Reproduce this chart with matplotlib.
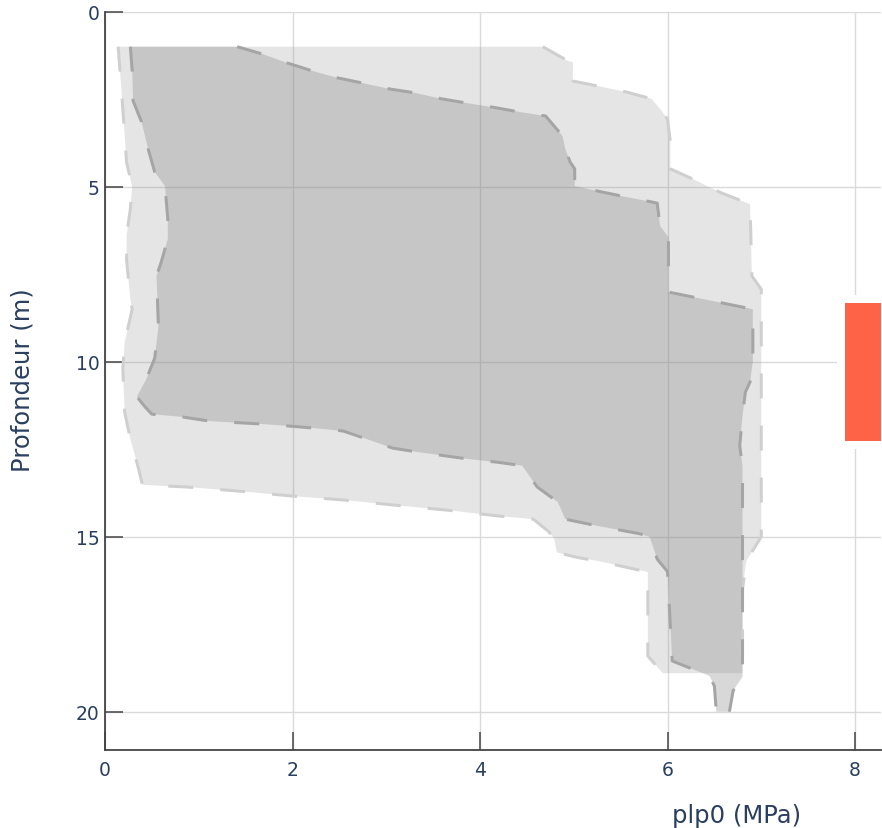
import matplotlib
matplotlib.use('Agg')
import matplotlib.pyplot as plt
from matplotlib.patches import Rectangle
import numpy as np

plt.rcParams['font.family'] = ['DejaVu Sans']
plt.rcParams['lines.scale_dashes'] = False

# ---------------- data ----------------
outer_left_depth = [1.0, 2.4, 4.3, 5.0, 5.64, 6.4, 7.1, 8.2, 8.5, 9.44, 10.2, 11.44, 12.21,
                    12.98, 13.52, 13.58, 13.70, 13.84, 13.95, 14.11, 14.25, 14.41, 14.5,
                    14.85, 15.05, 15.45, 15.6, 15.69, 16.01, 18.41, 18.9]
outer_left_x = [0.14, 0.18, 0.23, 0.29, 0.27, 0.23, 0.23, 0.27, 0.29, 0.21, 0.19, 0.21, 0.27,
                0.35, 0.40, 0.87, 1.44, 2.0, 2.54, 3.13, 3.68, 4.2, 4.57,
                4.73, 4.79, 4.82, 5.05, 5.25, 5.79, 5.79, 5.95]

outer_right_depth = [1.0, 1.41, 1.44, 1.98, 2.12, 2.30, 2.49, 2.84, 3.07, 3.72, 4.49, 4.78,
                     5.16, 5.50, 7.55, 7.93, 15.0, 15.70, 16.5, 18.9]
outer_right_x = [4.67, 4.94, 4.99, 4.99, 5.25, 5.57, 5.83, 5.94, 6.00, 6.03, 6.03, 6.27,
                 6.56, 6.88, 6.90, 7.00, 7.00, 6.84, 6.80, 6.80]

inner_left_depth = [1.0, 1.69, 2.55, 3.15, 3.92, 4.58, 4.98, 5.93, 6.49, 7.15, 7.55, 9.0, 9.9,
                    10.5, 11.0, 11.3, 11.5, 11.58, 11.70, 11.78, 11.84, 11.90, 11.98, 12.21,
                    12.47, 12.58, 12.69, 12.78, 12.87, 12.97, 13.58, 14.01, 14.50, 14.69,
                    14.92, 15.01, 15.64, 16.0, 18.55, 18.98, 19.27, 20.0]
inner_left_x = [0.27, 0.29, 0.30, 0.39, 0.46, 0.53, 0.64, 0.67, 0.67, 0.60, 0.55, 0.57, 0.53,
                0.44, 0.34, 0.43, 0.50, 0.83, 1.12, 1.67, 1.97, 2.24, 2.54, 2.79,
                3.07, 3.33, 3.63, 3.87, 4.18, 4.45, 4.61, 4.83, 4.91, 5.25,
                5.71, 5.81, 5.89, 6.0, 6.05, 6.45, 6.50, 6.52]

inner_right_depth = [1.0, 1.21, 1.47, 1.69, 1.89, 2.04, 2.21, 2.32, 2.49, 2.61, 2.73, 2.86,
                     2.98, 3.55, 3.92, 4.29, 4.49, 4.98, 5.15, 5.29, 5.44, 5.47, 6.12, 6.44,
                     8.01, 8.50, 10.0, 10.58, 10.87, 11.55, 12.4, 13.0, 19.0, 19.4, 20.0]
inner_right_x = [1.41, 1.68, 1.95, 2.21, 2.48, 2.75, 3.04, 3.31, 3.59, 3.86, 4.14, 4.41,
                 4.70, 4.88, 4.91, 4.96, 5.01, 5.01, 5.30, 5.55, 5.84, 5.89, 5.92, 6.01,
                 6.01, 6.91, 6.91, 6.88, 6.83, 6.80, 6.77, 6.80, 6.80, 6.70, 6.66]

layer_x_start = 7.893
layer_top = 8.32
layer_bottom = 12.27

x_ticks = [0, 2, 4, 6, 8]
y_ticks = [0, 5, 10, 15, 20]
x_title = 'plp0 (MPa)'
y_title = 'Profondeur (m)'

# ---------------- figure ----------------
W, H = 882, 829
fig = plt.figure(figsize=(W / 100, H / 100), dpi=100)
ax = fig.add_axes([105 / W, (H - 750.7) / H, (881 - 105) / W, (750.7 - 12.7) / H])
ax.set_xlim(0, 8.277)
ax.set_ylim(21.086, 0)

text_color = '#2a3f5f'
gray = (0.5, 0.5, 0.5)

old = np.array(outer_left_depth); olx = np.array(outer_left_x)
ord_ = np.array(outer_right_depth); orx = np.array(outer_right_x)
ild = np.array(inner_left_depth); ilx = np.array(inner_left_x)
ird = np.array(inner_right_depth); irx = np.array(inner_right_x)

ax.fill(np.r_[olx, orx[::-1]], np.r_[old, ord_[::-1]], color=gray, alpha=0.2, lw=0, zorder=2)
ax.fill(np.r_[ilx, irx[::-1]], np.r_[ild, ird[::-1]], color=gray, alpha=0.3, lw=0, zorder=3)

dash = (0, (18, 19.5))
lw = 2.16
ax.plot(olx, old, color='#cfcfcf', lw=lw, ls=dash, zorder=4)
ax.plot(orx, ord_, color='#cfcfcf', lw=lw, ls=dash, zorder=4)
ax.plot(ilx, ild, color='#a5a5a5', lw=lw, ls=dash, zorder=5)
ax.plot(irx, ird, color='#a5a5a5', lw=lw, ls=dash, zorder=5)

# highlighted layer
dx = 8 / 93.75
dy = 8 / 35
ax.add_patch(Rectangle((layer_x_start - dx, layer_top - dy), 2.0, layer_bottom - layer_top + 2 * dy,
                       facecolor='white', edgecolor='none', zorder=6))
ax.add_patch(Rectangle((layer_x_start, layer_top), 2.0, layer_bottom - layer_top,
                       facecolor='#ff6347', edgecolor='none', zorder=7))

ax.set_axisbelow(True)
ax.grid(True, color='#dadada', lw=1.0)
ax.set_xticks(x_ticks)
ax.set_yticks(y_ticks)
ax.tick_params(direction='in', length=13, width=1.1, color='#444444',
               labelsize=13.5, labelcolor=text_color)
ax.tick_params(axis='x', pad=7.6)
ax.tick_params(axis='y', pad=4)
for s in ['top', 'right']:
    ax.spines[s].set_visible(False)
for s in ['left', 'bottom']:
    ax.spines[s].set_color('#444444')
    ax.spines[s].set_linewidth(1.3)
    ax.spines[s].set_zorder(8)

fig.text(737 / W, (H - 823) / H, x_title, ha='center', va='baseline', fontsize=17.5, color=text_color)
fig.text(22.5 / W, 1 - 380 / H, y_title, rotation=90, ha='center', va='center', fontsize=17.5,
         color=text_color)

fig.savefig('out.png', dpi=100)
